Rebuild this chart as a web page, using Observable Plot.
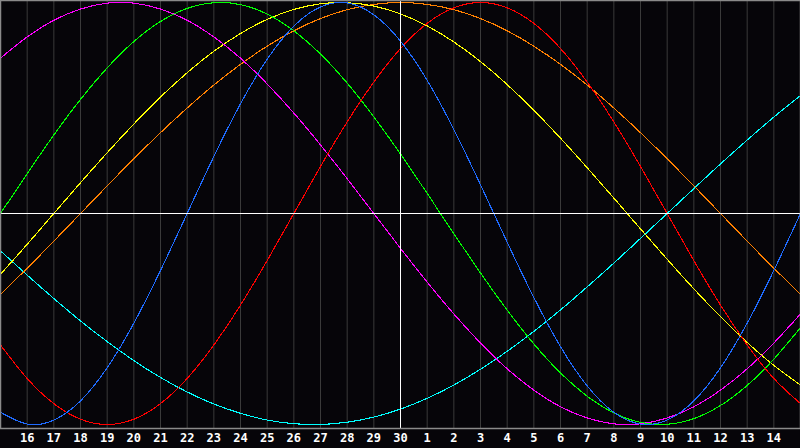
<!DOCTYPE html>
<html>
<head>
<meta charset="utf-8">
<script src="https://cdn.jsdelivr.net/npm/d3@7"></script>
<script src="https://cdn.jsdelivr.net/npm/@observablehq/plot@0.6"></script>
<style>
  html, body { margin: 0; padding: 0; background: #060509; }
  #chart svg { display: block; }
</style>
</head>
<body>
<div id="chart"></div>
<script>
// Day labels at each grid position (index 0 .. 30)
const dayLabels = [15,16,17,18,19,20,21,22,23,24,25,26,27,28,29,30,1,2,3,4,5,6,7,8,9,10,11,12,13,14,15];
const todayIndex = 15;

// Series values read at each day (index 0 .. 30), range -1 .. 1
const physical = [-0.942,-0.998,-0.979,-0.888,-0.731,-0.520,-0.270,0,0.270,0.520,0.731,0.888,0.979,0.998,0.942,0.817,0.631,0.398,0.136,-0.136,-0.398,-0.631,-0.817,-0.942,-0.998,-0.979,-0.888,-0.731,-0.520,-0.270,0];
const emotional = [-0.623,-0.782,-0.901,-0.975,-1,-0.975,-0.901,-0.782,-0.623,-0.434,-0.223,0,0.223,0.434,0.623,0.782,0.901,0.975,1,0.975,0.901,0.782,0.623,0.434,0.223,0,-0.223,-0.434,-0.623,-0.782,-0.901];
const intellectual = [0,0.189,0.372,0.541,0.690,0.815,0.910,0.972,0.999,0.990,0.945,0.866,0.756,0.618,0.458,0.282,0.095,-0.095,-0.282,-0.458,-0.618,-0.756,-0.866,-0.945,-0.990,-0.999,-0.972,-0.910,-0.815,-0.690,-0.541];
const intuitive = [0.736,0.837,0.916,0.969,0.997,0.997,0.969,0.916,0.837,0.736,0.614,0.476,0.325,0.165,0,-0.165,-0.325,-0.476,-0.614,-0.736,-0.837,-0.916,-0.969,-0.997,-0.997,-0.969,-0.916,-0.837,-0.736,-0.614,-0.476];
const aesthetic = [-0.288,-0.146,0,0.146,0.288,0.424,0.552,0.667,0.769,0.853,0.920,0.967,0.994,0.999,0.983,0.946,0.889,0.813,0.720,0.611,0.489,0.357,0.217,0.073,-0.073,-0.217,-0.357,-0.489,-0.611,-0.720,-0.813];
const awareness = [-0.383,-0.259,-0.131,0,0.131,0.259,0.383,0.5,0.609,0.707,0.793,0.866,0.924,0.966,0.991,1,0.991,0.966,0.924,0.866,0.793,0.707,0.609,0.5,0.383,0.259,0.131,0,-0.131,-0.259,-0.383];
const spiritual = [-0.177,-0.292,-0.403,-0.509,-0.607,-0.697,-0.777,-0.846,-0.903,-0.947,-0.979,-0.996,-1.000,-0.989,-0.965,-0.927,-0.876,-0.813,-0.738,-0.653,-0.559,-0.457,-0.348,-0.235,-0.118,0,0.118,0.235,0.348,0.457,0.559];

const seriesNames = ["spiritual","awareness","aesthetic","intuitive","intellectual","emotional","physical"];
const seriesValues = [spiritual, awareness, aesthetic, intuitive, intellectual, emotional, physical];
const seriesColors = ["#00ffff","#ff8000","#ffff00","#ff00ff","#00ff00","#ff0000","#1f6bff"];

const rows = [];
seriesNames.forEach((name, s) => {
  seriesValues[s].forEach((v, i) => rows.push({series: name, i, v}));
});
const gridIdx = d3.range(1, dayLabels.length - 1);

const chart = Plot.plot({
  width: 800,
  height: 448,
  marginTop: 0,
  marginLeft: 0,
  marginRight: 0,
  marginBottom: 20,
  style: {background: "#060509"},
  x: {domain: [0, dayLabels.length - 1], range: [0, 800], axis: null},
  y: {domain: [-1, 1], range: [424, 2], axis: null},
  color: {domain: seriesNames, range: seriesColors},
  marks: [
    Plot.ruleX(gridIdx.filter(i => i !== todayIndex), {x: d => d, y1: -1.02, y2: 1.02, stroke: "#3a3a3a", strokeWidth: 1}),
    Plot.lineY(rows, {x: "i", y: "v", z: "series", stroke: "series", strokeWidth: 1.1, curve: "natural", shapeRendering: "crispEdges"}),
    Plot.ruleY([0], {stroke: "#ffffff", strokeWidth: 1}),
    Plot.ruleX([todayIndex], {y1: -1.02, y2: 1.02, stroke: "#ffffff", strokeWidth: 1}),
    Plot.frame({stroke: "#8a8a8a", strokeWidth: 1.5}),
    Plot.text(gridIdx, {x: d => d, y: -1, dy: 14, text: d => String(dayLabels[d]), fill: "#ffffff", fontFamily: "DejaVu Sans Mono", fontWeight: "bold", fontSize: 12, textAnchor: "middle", lineAnchor: "middle"})
  ]
});
document.getElementById("chart").append(chart);
</script>
</body>
</html>
